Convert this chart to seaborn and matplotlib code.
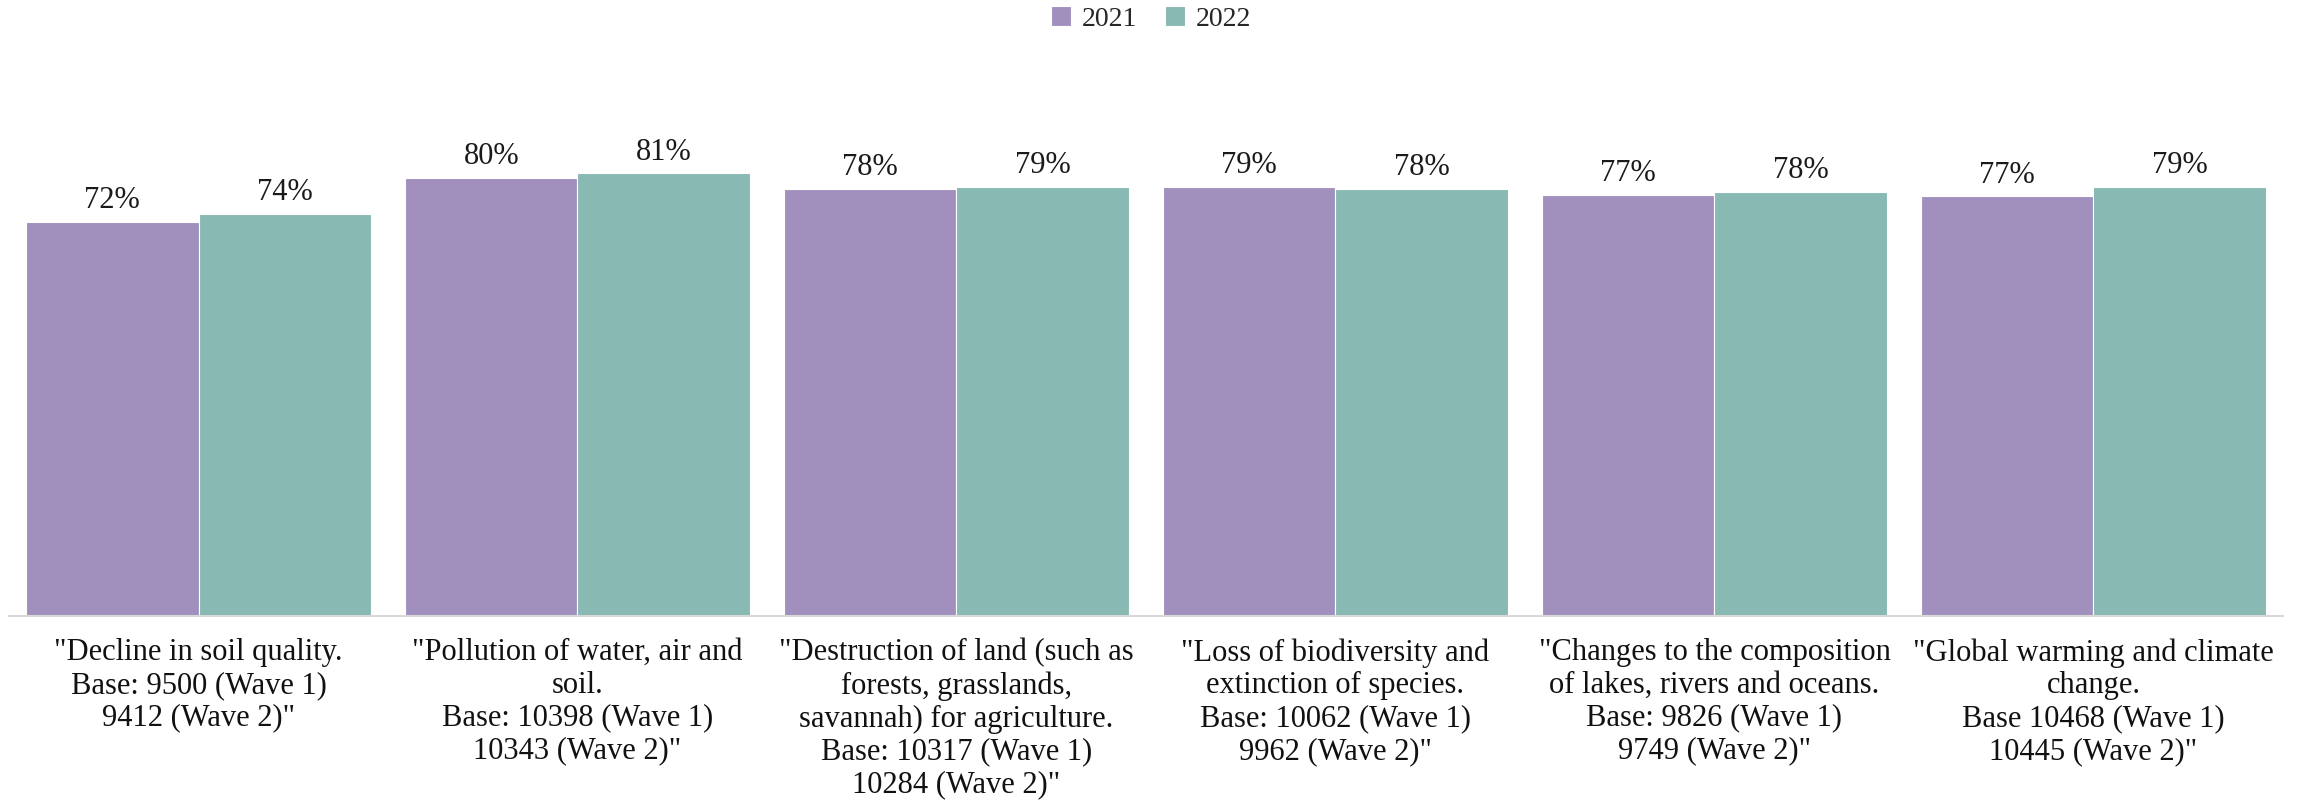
import pandas as pd
import matplotlib
matplotlib.use("Agg")
import matplotlib.pyplot as plt
import seaborn as sns

# Chart data
CATEGORIES = [
    '"Decline in soil quality.\nBase: 9500 (Wave 1)\n9412 (Wave 2)"',
    '"Pollution of water, air and\nsoil.\nBase: 10398 (Wave 1)\n10343 (Wave 2)"',
    '"Destruction of land (such as\nforests, grasslands,\nsavannah) for agriculture.\nBase: 10317 (Wave 1)\n10284 (Wave 2)"',
    '"Loss of biodiversity and\nextinction of species.\nBase: 10062 (Wave 1)\n9962 (Wave 2)"',
    '"Changes to the composition\nof lakes, rivers and oceans.\nBase: 9826 (Wave 1)\n9749 (Wave 2)"',
    '"Global warming and climate\nchange.\nBase 10468 (Wave 1)\n10445 (Wave 2)"',
]
YEARS = ["2021", "2022"]
VALUES_2021 = [72.0, 80.0, 78.0, 78.5, 76.9, 76.7]
VALUES_2022 = [73.5, 80.9, 78.5, 78.0, 77.6, 78.5]

COLORS = {"2021": "#A190BE", "2022": "#88B9B3"}
FONT = "Liberation Serif"

df = pd.DataFrame({
    "Category": CATEGORIES * 2,
    "Year": [YEARS[0]] * len(CATEGORIES) + [YEARS[1]] * len(CATEGORIES),
    "Value": VALUES_2021 + VALUES_2022,
})

sns.set_style("white")
plt.rcParams["font.family"] = [FONT, "DejaVu Serif"]

fig = plt.figure(figsize=(23.13, 8), dpi=100)
ax = fig.add_axes([0.0039, 0.23, 0.9831, 0.68375])

sns.barplot(data=df, x="Category", y="Value", hue="Year", palette=COLORS,
            saturation=1, width=0.91, edgecolor="white", linewidth=0.8, ax=ax)

# data labels, rounded half up like the source
for container, vals in zip(ax.containers, [VALUES_2021, VALUES_2022]):
    ax.bar_label(container, labels=[f"{int(v + 0.5)}%" for v in vals],
                 padding=5, fontsize=22, color="#1a1a1a")

ax.set_ylim(0, 100)
ax.set_xlim(-0.5, len(CATEGORIES) - 0.5)
ax.set_xlabel("")
ax.set_ylabel("")
ax.set_yticks([])

ax.set_xticks(range(len(CATEGORIES)))
ax.set_xticklabels(CATEGORIES, fontsize=22, linespacing=1.17, color="#111111")
ax.tick_params(axis="x", which="major", length=0, pad=16)
ax.set_xticks([i - 0.5 for i in range(len(CATEGORIES) + 1)], minor=True)
ax.tick_params(axis="x", which="minor", length=7, width=1.2, color="#D9D9D9", direction="out")

for side in ["top", "left", "right"]:
    ax.spines[side].set_visible(False)
ax.spines["bottom"].set_color("#D9D9D9")
ax.spines["bottom"].set_linewidth(1.5)

ax.get_legend().remove()
handles, labels = ax.get_legend_handles_labels()
fig.legend(handles, labels, loc="center", bbox_to_anchor=(0.4977, 0.976), ncol=2,
           frameon=False, fontsize=20, handlelength=0.7, handleheight=0.7,
           handletextpad=0.4, columnspacing=1.0)

plt.savefig("out.png", dpi=100)
plt.close()
